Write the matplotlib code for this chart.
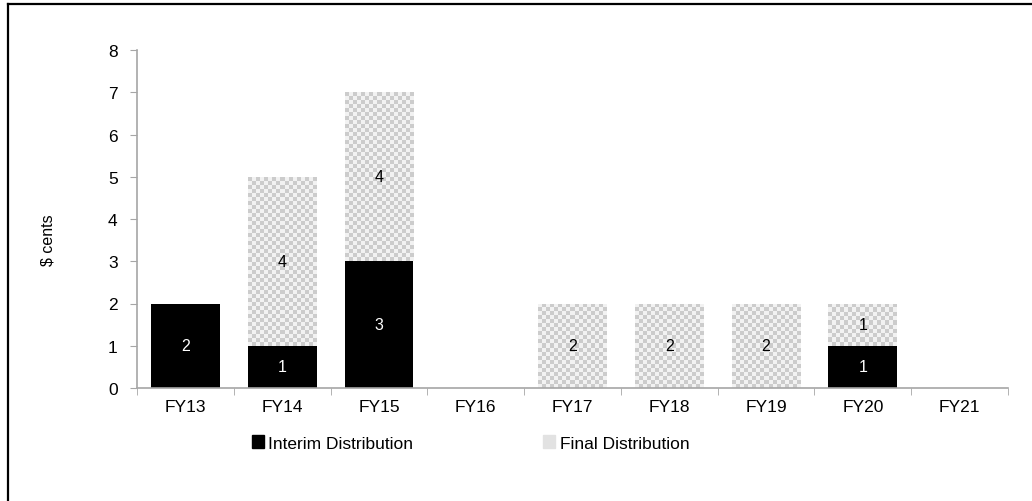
import numpy as np
import matplotlib.pyplot as plt
from matplotlib.patches import Patch
from matplotlib.lines import Line2D

plt.rcParams['font.family'] = ['Liberation Sans', 'DejaVu Sans']

years = ['FY13', 'FY14', 'FY15', 'FY16', 'FY17', 'FY18', 'FY19', 'FY20', 'FY21']
interim = [2, 1, 3, 0, 0, 0, 0, 1, 0]
final = [0, 4, 4, 0, 2, 2, 2, 1, 0]

W, H = 1032, 502
fig = plt.figure(figsize=(W / 100, H / 100), dpi=100)
ax = fig.add_axes([137 / W, 1 - 389 / H, (1008 - 137) / W, (389 - 51) / H])

# outer frame (top + left only visible)
fig.add_artist(Line2D([8 / W, 1.0], [1 - 5 / H, 1 - 5 / H], color='black', lw=1.6))
fig.add_artist(Line2D([8 / W, 8 / W], [0, 1 - 5 / H], color='black', lw=1.6))

x = np.arange(len(years))
bw = 0.71
grey = '#a6a6a6'

# checker pattern for final distribution
n = 200
checker = np.indices((n, n)).sum(axis=0) % 2
cmap = plt.matplotlib.colors.ListedColormap(['#f2f2f2', '#cccccc'])

ax.bar(x, interim, bw, color='black', zorder=2)
fb = ax.bar(x, final, bw, bottom=interim, color='none', zorder=2)
for rect in fb:
    h = rect.get_height()
    if h <= 0:
        continue
    x0, y0 = rect.get_x(), rect.get_y()
    # cell size ~4 px
    nx = int(rect.get_width() * 96.8 / 4)
    ny = int(h * 42.25 / 4)
    im = ax.imshow(checker[:ny, :nx], extent=[x0, x0 + rect.get_width(), y0, y0 + h],
                   cmap=cmap, aspect='auto', interpolation='nearest', zorder=1.5,
                   origin='lower')
    im.set_clip_path(rect)

for i in range(len(years)):
    if interim[i] > 0:
        ax.text(x[i], interim[i] / 2, str(interim[i]), ha='center', va='center',
                color='white', fontsize=11.5)
    if final[i] > 0:
        ax.text(x[i], interim[i] + final[i] / 2, str(final[i]), ha='center', va='center',
                color='black', fontsize=11.5)

ax.set_xlim(-0.5, len(years) - 0.5)
ax.set_ylim(0, 8)
ax.set_yticks(range(0, 9))
ax.set_xticks(x)
ax.set_xticklabels(years)
ax.set_xticks(np.arange(-0.5, len(years)), minor=True)
ax.tick_params(axis='x', which='major', length=0, pad=8, labelsize=12.5)
ax.tick_params(axis='x', which='minor', length=5, color=grey, direction='out')
ax.tick_params(axis='y', length=5, color=grey, pad=9, labelsize=12.5)
for s in ['top', 'right']:
    ax.spines[s].set_visible(False)
for s in ['left', 'bottom']:
    ax.spines[s].set_color(grey)
    ax.spines[s].set_linewidth(1.2)

fig.text(48 / W, 1 - 240 / H, '$ cents', rotation=90, ha='center', va='center', fontsize=11.5)

handles = [Patch(facecolor='black', edgecolor='black'),
           Patch(facecolor='#e2e2e2', edgecolor='#e2e2e2')]
fig.legend(handles, ['Interim Distribution', 'Final Distribution'], ncol=2,
           loc='center left', bbox_to_anchor=(236 / W, 1 - 444 / H), frameon=False,
           fontsize=12.5, handlelength=0.7, handleheight=0.7, handletextpad=0.25,
           columnspacing=7.5)

fig.savefig('out.png', dpi=100)
